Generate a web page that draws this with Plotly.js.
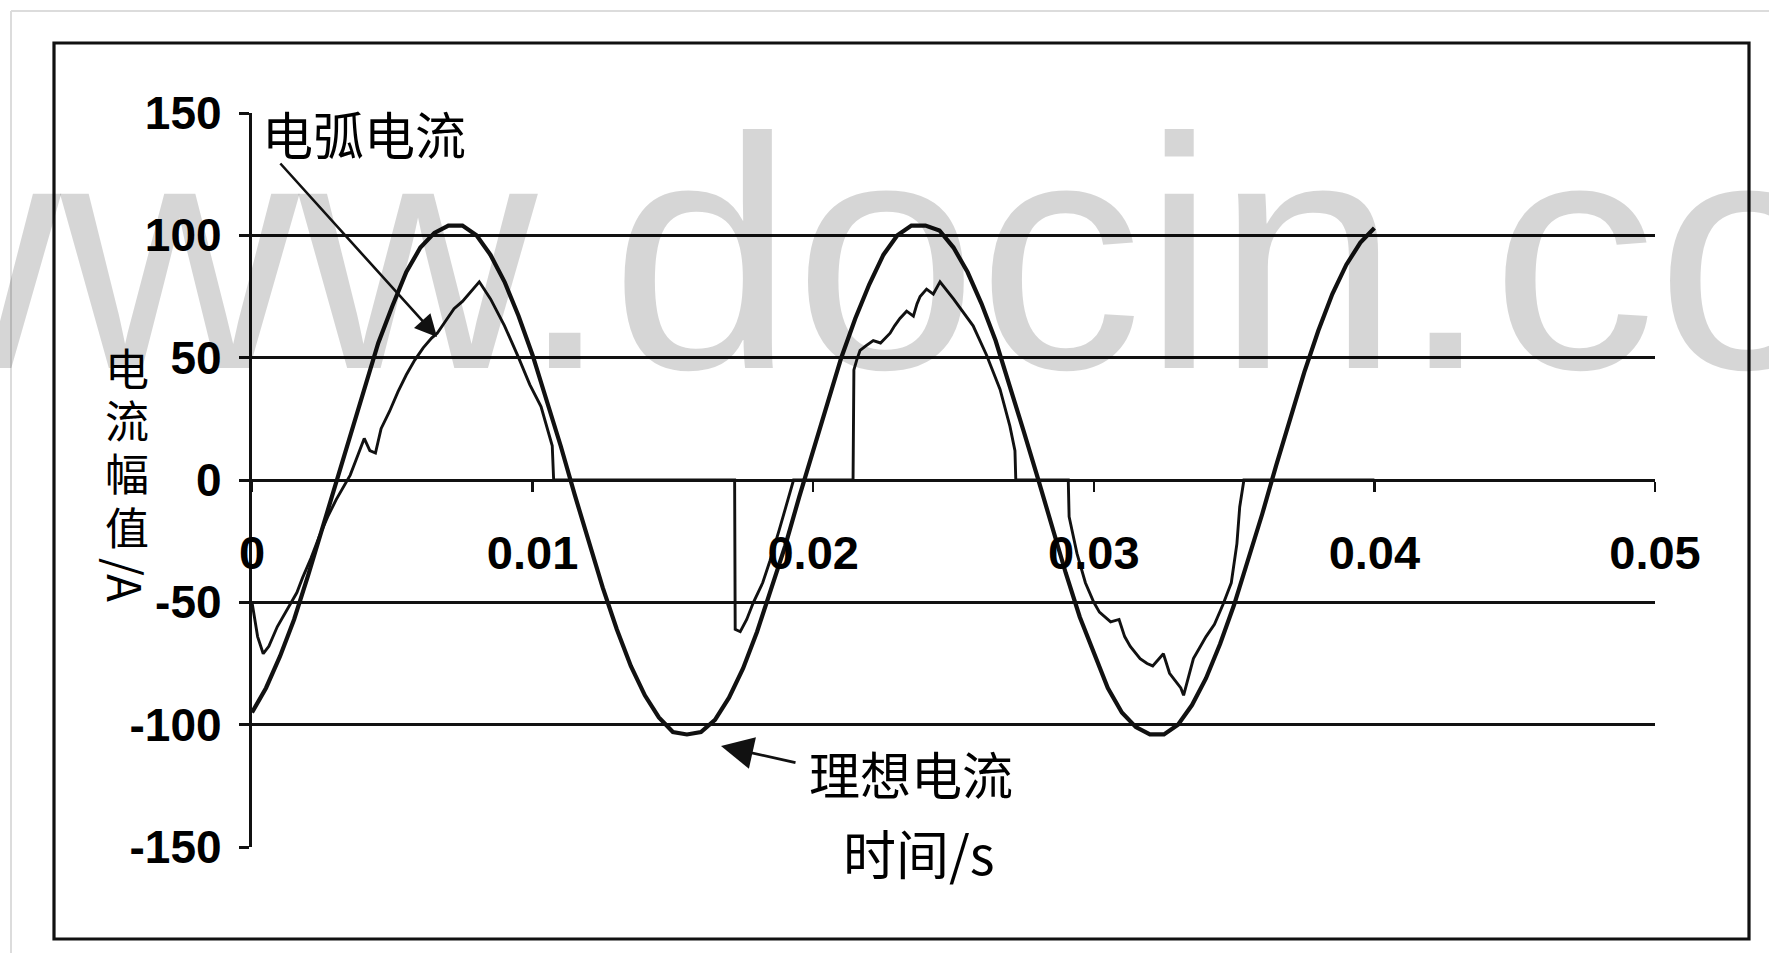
<!DOCTYPE html>
<html>
<head>
<meta charset="utf-8">
<script src="https://cdn.plot.ly/plotly-3.0.1.min.js"></script>
<style>
html,body{margin:0;padding:0;background:#fff;}
#chart{width:1769px;height:953px;}
</style>
</head>
<body>
<div id="chart"></div>
<script>
// ---------- data ----------
const idealT = [0,0.0005,0.001,0.0015,0.002,0.0025,0.003,0.0035,0.004,0.0045,
  0.005,0.0055,0.006,0.0065,0.007,0.0075,0.008,0.0085,0.009,0.0095,
  0.010,0.0105,0.011,0.0115,0.012,0.0125,0.013,0.0135,0.014,0.0145,
  0.015,0.0155,0.016,0.0165,0.017,0.0175,0.018,0.0185,0.019,0.0195,
  0.020,0.0205,0.021,0.0215,0.022,0.0225,0.023,0.0235,0.024,0.0245,
  0.025,0.0255,0.026,0.0265,0.027,0.0275,0.028,0.0285,0.029,0.0295,
  0.030,0.0305,0.031,0.0315,0.032,0.0325,0.033,0.0335,0.034,0.0345,
  0.035,0.0355,0.036,0.0365,0.037,0.0375,0.038,0.0385,0.039,0.0395,0.040];
const idealI = [-95,-85,-72,-57,-39,-20,-1,19,38,56,
  71,85,95,101,104,104,100,92,81,67,
  51,33,14,-6,-25,-44,-61,-76,-88,-97,
  -103,-104,-103,-98,-89,-77,-62,-45,-27,-7,
  12,32,50,66,80,92,100,104,104,102,
  95,85,72,57,39,20,1,-19,-38,-56,
  -71,-85,-95,-101,-104,-104,-100,-92,-81,-67,
  -51,-33,-14,6,25,44,61,76,88,97,103];

const arcT = [0,0.0002,0.0004,0.0006,0.0009,0.0012,0.0014,0.0016,0.0018,0.0021,
  0.0024,0.0027,0.0030,0.0033,0.0035,0.0037,0.0039,0.0040,0.0042,0.0044,
  0.0046,0.0049,0.0052,0.0055,0.0058,0.0061,0.0064,0.0066,0.0069,0.0072,
  0.0075,0.0078,0.0081,0.0085,0.0090,0.0095,0.0099,0.0103,0.0107,0.01075,
  0.0172,0.01722,0.0174,0.01763,0.01787,0.0182,0.01846,0.0188,0.0191,0.0193,
  0.02142,0.02145,0.02155,0.02167,0.0219,0.02214,0.0224,0.02274,0.0229,0.02309,
  0.02333,0.02357,0.0237,0.02381,0.02404,0.02428,0.02452,0.0250,0.0257,0.02618,
  0.02666,0.02701,0.02719,0.02722,0.02909,0.02912,0.0294,0.0297,0.0300,0.0302,
  0.0306,0.0309,0.0311,0.0313,0.03165,0.0319,0.0321,0.03248,0.0327,0.0331,
  0.0332,0.03355,0.0337,0.0340,0.0343,0.0346,0.0349,0.0351,0.0352,0.03535,0.0400];
const arcI = [-50,-64,-71,-68,-60,-54,-50,-46,-40,-32,
  -23,-15,-8,-2,2,8,14,17,12,11,
  21,28,36,43,49,54,58,60,65,70,
  73,77,81,74,63,50,39,30,14,0,
  0,-61,-62,-57,-50,-42,-33,-20,-8,0,
  0,45,49,53,55,57,56,60,63,66,
  69,67,72,75,78,76,81,74,63,51,
  37,22,12,0,0,-15,-30,-42,-50,-54,
  -58,-57,-64,-68,-73,-75,-76,-71,-79,-85,
  -88,-73,-70,-64,-59,-51,-42,-26,-11,0,0];

const xTickVals = [0,0.01,0.02,0.03,0.04,0.05];
const xTickText = ['0','0.01','0.02','0.03','0.04','0.05'];
const yTickVals = [-150,-100,-50,0,50,100,150];
const yTickText = ['-150','-100','-50','0','50','100','150'];
const gridVals = [-100,-50,50,100];
const yTitleChars = ['电','流','幅','值'];

// ---------- layout geometry (pixels) ----------
const W = 1769, H = 953;
const L = 252, R = 114, T = 113, B = 106;
const PW = W - L - R, PH = H - T - B;
const px = v => (v - L) / PW;
const py = v => (H - B - v) / PH;

const ink = '#111';
const numFamily = 'Liberation Sans, Arial, sans-serif';
const cjk = 'Noto Sans CJK SC, sans-serif';

const traces = [
  {x: idealT, y: idealI, type:'scatter', mode:'lines', name:'理想电流',
   line:{color:ink, width:4.2}, hoverinfo:'skip'},
  {x: arcT, y: arcI, type:'scatter', mode:'lines', name:'电弧电流',
   line:{color:ink, width:2.9}, hoverinfo:'skip'},
  {x: [], y: [], type:'scatter', mode:'lines', yaxis:'y2', showlegend:false, hoverinfo:'skip'}
];

const annotations = [
  {text:'www.docin.com', xref:'paper', yref:'paper', x:px(-185), y:py(440),
   xanchor:'left', yanchor:'bottom', showarrow:false,
   font:{family:numFamily, size:330, color:'rgba(0,0,0,0.16)'}},
  {text:'电弧电流', xref:'paper', yref:'paper', x:px(364), y:py(133),
   xanchor:'center', yanchor:'middle', showarrow:false,
   font:{family:cjk, size:51, color:'#000'}},
  {text:'', xref:'paper', yref:'paper', x:px(437), y:py(337), ax:-158, ay:-175,
   showarrow:true, arrowhead:2, arrowsize:1.7, arrowwidth:2.6, arrowcolor:ink},
  {text:'理想电流', xref:'paper', yref:'paper', x:px(911), y:py(773),
   xanchor:'center', yanchor:'middle', showarrow:false,
   font:{family:cjk, size:51, color:'#000'}},
  {text:'', xref:'paper', yref:'paper', x:px(721), y:py(746), ax:76, ay:17,
   showarrow:true, arrowhead:2, arrowsize:2.3, arrowwidth:2.8, arrowcolor:ink},
  {text:'时间/s', xref:'paper', yref:'paper', x:px(919), y:py(852),
   xanchor:'center', yanchor:'middle', showarrow:false,
   font:{family:cjk, size:53, color:'#000'}},
  {text:'/A', xref:'paper', yref:'paper', x:px(127), y:py(580), textangle:90,
   xanchor:'center', yanchor:'middle', showarrow:false,
   font:{family:cjk, size:46, color:'#000'}}
];
const yTitleY = [367, 419, 472, 526];
yTitleChars.forEach((c, i) => annotations.push(
  {text:c, xref:'paper', yref:'paper', x:px(127), y:py(yTitleY[i]),
   xanchor:'center', yanchor:'middle', showarrow:false,
   font:{family:cjk, size:44, color:'#000'}}));

const layout = {
  width: W, height: H,
  margin: {l:L, r:R, t:T, b:B, pad:0},
  paper_bgcolor:'#fff', plot_bgcolor:'rgba(0,0,0,0)',
  showlegend:false,
  xaxis: {
    range:[0,0.05], tickmode:'array', tickvals:xTickVals, ticktext:xTickText,
    anchor:'free', position:0.5,
    showline:true, linecolor:ink, linewidth:3.4,
    ticks:'outside', ticklen:10, tickwidth:2.5, tickcolor:ink,
    showgrid:false, zeroline:false, ticklabelstandoff:20,
    tickfont:{family:numFamily, size:47, color:'#000', weight:'bold'}, fixedrange:true
  },
  yaxis: {
    range:[-150,150], tickmode:'array', tickvals:yTickVals, ticktext:yTickText,
    showline:true, linecolor:ink, linewidth:3.2,
    ticks:'outside', ticklen:10, tickwidth:3, tickcolor:ink,
    showgrid:false, zeroline:false, ticklabelstandoff:8,
    tickfont:{family:numFamily, size:46, color:'#000', weight:'bold'}, fixedrange:true
  },
  yaxis2: {
    range:[-150,150], overlaying:'y', tickmode:'array', tickvals:gridVals,
    showticklabels:false, ticks:'', showline:false, zeroline:false,
    showgrid:true, gridcolor:ink, gridwidth:3.4, fixedrange:true
  },
  shapes: [
    {type:'rect', xref:'paper', yref:'paper', x0:px(54), x1:px(1749), y0:py(939), y1:py(43),
     line:{color:ink, width:3.2}, fillcolor:'rgba(0,0,0,0)'},
    {type:'line', xref:'paper', yref:'paper', x0:px(11), x1:px(1769), y0:py(11), y1:py(11),
     line:{color:'#dcdcdc', width:2}},
    {type:'line', xref:'paper', yref:'paper', x0:px(11), x1:px(11), y0:py(11), y1:py(953),
     line:{color:'#dcdcdc', width:2}}
  ],
  annotations: annotations
};

Plotly.newPlot('chart', traces, layout, {displayModeBar:false, staticPlot:true, responsive:false});
</script>
</body>
</html>
